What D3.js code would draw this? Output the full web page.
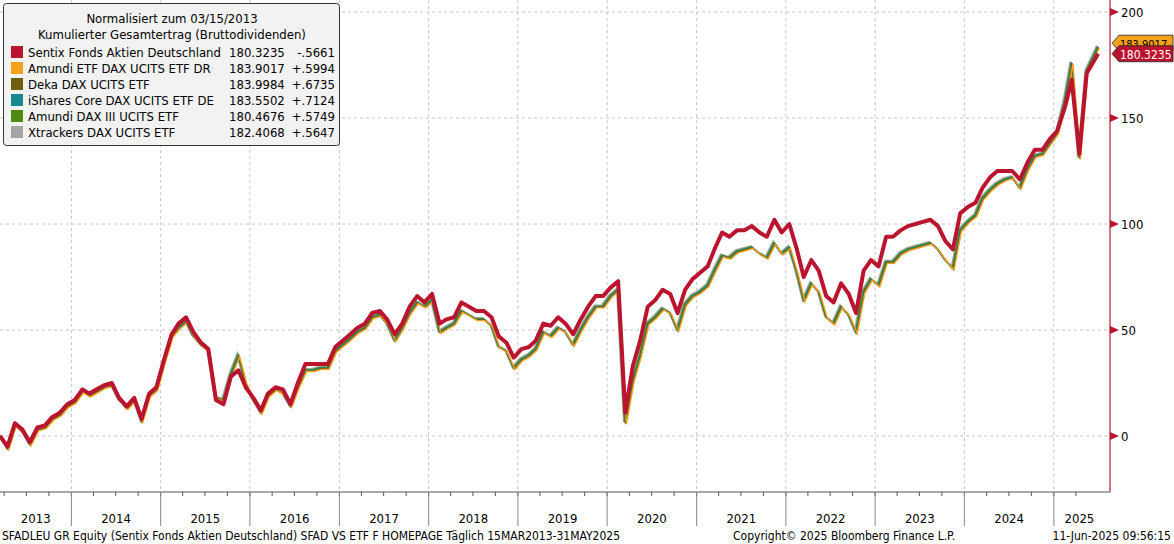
<!DOCTYPE html>
<html>
<head>
<meta charset="utf-8">
<script src="https://cdn.jsdelivr.net/npm/d3@7"></script>
<style>
  body { margin: 0; background: #fff; }
  svg { font-family: "DejaVu Sans Condensed", "DejaVu Sans", sans-serif; }
</style>
</head>
<body>
<div id="chart"></div>
<script>
// monthly closes, Mar 2013 .. May 2025 (normalised, 0 = 15 Mar 2013)
const startMonth = new Date(2013, 2, 15);
const sentixValues = [
  0, -5, 6, 3, -3, 4, 5, 9, 11, 15,
  17, 22, 20, 22, 24, 25, 18, 14, 18, 8, 20, 23,
  36, 48, 53, 56, 49, 44, 41, 17, 15, 28, 31, 23,
  18, 12, 20, 23, 22, 15, 25, 34, 34, 34, 34, 42,
  45, 48, 51, 53, 58, 59, 55, 48, 53, 61, 66, 63,
  67, 53, 55, 56, 63, 61, 59, 59, 56, 47, 44, 37,
  41, 42, 45, 53, 52, 56, 53, 48, 55, 61, 66, 66,
  70, 73, 11, 33, 45, 61, 64, 69, 67, 58, 69, 74,
  77, 80, 88, 96, 94, 97, 97, 99, 96, 94, 102, 96,
  100, 88, 75, 83, 78, 66, 63, 72, 67, 58, 78, 83,
  80, 94, 94, 97, 99, 100, 101, 102, 99, 92, 88, 105,
  108, 110, 117, 122, 125, 125, 125, 121, 129, 135, 135, 140,
  144, 155, 168, 133, 171, 180.3235
];
const etfValues = [
  0, -6, 5, 2, -4, 3, 4, 8, 10, 14,
  16, 21, 19, 21, 23, 24, 17, 13, 17, 7, 19, 22,
  35, 47, 51, 54, 47, 43, 40, 18, 17, 29, 38, 25,
  17, 11, 19, 22, 20, 14, 23, 31, 31, 32, 32, 40,
  43, 46, 49, 51, 56, 57, 53, 45, 51, 58, 63, 61,
  64, 49, 51, 53, 59, 57, 55, 55, 52, 42, 40, 32,
  36, 38, 41, 49, 47, 51, 49, 43, 50, 56, 61, 61,
  66, 69, 6, 26, 38, 53, 56, 60, 58, 50, 62, 66,
  68, 71, 78, 85, 84, 87, 88, 89, 86, 84, 91, 86,
  89, 77, 64, 72, 68, 56, 53, 61, 57, 49, 68, 74,
  71, 82, 82, 86, 88, 89, 90, 91, 88, 83, 79, 97,
  101, 104, 112, 116, 119, 121, 122, 117, 126, 132, 133, 138,
  143, 158, 176, 131, 172, 183.55
];
const seriesNames = [
  "Sentix Fonds Aktien Deutschland", "Amundi ETF DAX UCITS ETF DR", "Deka DAX UCITS ETF",
  "iShares Core DAX UCITS ETF DE", "Amundi DAX III UCITS ETF", "Xtrackers DAX UCITS ETF"
];
const seriesColors = ["#bb142f", "#f5a01a", "#6e5f10", "#168a8e", "#4f8a10", "#a5a5a5"];
const lastValues = ["180.3235", "183.9017", "183.9984", "183.5502", "180.4676", "182.4068"];
const changeValues = ["-.5661", "+.5994", "+.6735", "+.7124", "+.5749", "+.5647"];
const yTicks = [0, 50, 100, 150, 200];
const yearLabels = [2013, 2014, 2015, 2016, 2017, 2018, 2019, 2020, 2021, 2022, 2023, 2024, 2025];
const footerLeft = "SFADLEU GR Equity (Sentix Fonds Aktien Deutschland) SFAD VS ETF F HOMEPAGE  Täglich 15MAR2013-31MAY2025";
const footerMid = "Copyright© 2025 Bloomberg Finance L.P.";
const footerRight = "11-Jun-2025 09:56:15";

const W = 1174, H = 544;
const plotRight = 1110, axisY = 492;

const dates = sentixValues.map((_, i) => {
  const d = new Date(startMonth);
  d.setMonth(startMonth.getMonth() + i);
  if (i === sentixValues.length - 1) d.setDate(31);
  return d;
});

const endDate = new Date(2025, 5, 10);
const x = d3.scaleTime().domain([startMonth, endDate]).range([0, 1093]);
const y = d3.scaleLinear().domain([0, 200]).range([436, 12]);

const svg = d3.select("#chart").append("svg")
  .attr("width", W).attr("height", H);

// grid
const years = d3.range(2014, 2026).map(yr => new Date(yr, 0, 1));
svg.append("g").selectAll("line").data(years).join("line")
  .attr("x1", d => x(d)).attr("x2", d => x(d))
  .attr("y1", 0).attr("y2", axisY)
  .attr("stroke", "#c4c4c4").attr("stroke-dasharray", "3,3");
svg.append("g").selectAll("line").data(yTicks).join("line")
  .attr("x1", 0).attr("x2", plotRight)
  .attr("y1", d => y(d)).attr("y2", d => y(d))
  .attr("stroke", "#c4c4c4").attr("stroke-dasharray", "3,3");

// lines
const line = d3.line().x((d, i) => x(dates[i])).y(d => y(d));
const lines = svg.append("g");
// ETFs drawn from the same ETF track, nudged by a pixel so the bundle shows
[5, 4, 3, 2, 1].forEach((k, j) => {
  lines.append("path").datum(etfValues)
    .attr("d", line)
    .attr("transform", `translate(${(j - 2) * 0.6},${(j - 2) * 0.6})`)
    .attr("fill", "none")
    .attr("stroke", seriesColors[k])
    .attr("stroke-width", k === 5 ? 2.2 : 1.4);
});
lines.append("path").datum(sentixValues)
  .attr("d", line)
  .attr("fill", "none")
  .attr("stroke", seriesColors[0])
  .attr("stroke-width", 4)
  .attr("stroke-linejoin", "round");

// right axis
svg.append("line")
  .attr("x1", plotRight).attr("x2", plotRight)
  .attr("y1", 0).attr("y2", axisY)
  .attr("stroke", "#bb142f").attr("stroke-width", 1.2);
const yAx = svg.append("g");
yAx.selectAll("path").data(yTicks).join("path")
  .attr("d", d => `M${plotRight},${y(d) - 4}L${plotRight + 9},${y(d)}L${plotRight},${y(d) + 4}Z`)
  .attr("fill", "#bb142f");
yAx.selectAll("text").data(yTicks).join("text")
  .attr("x", plotRight + 11).attr("y", d => y(d) + 5)
  .attr("font-size", 13).attr("fill", "#000")
  .text(d => d);

// last value badges
function badge(val, txt, color, fg, size) {
  const yy = y(val);
  const g = svg.append("g");
  g.append("path")
    .attr("d", `M${plotRight + 2},${yy}L${plotRight + 9},${yy - 8}L${W - 1},${yy - 8}L${W - 1},${yy + 8}L${plotRight + 9},${yy + 8}Z`)
    .attr("fill", color).attr("stroke", "#222").attr("stroke-width", 0.8);
  g.append("text").attr("x", plotRight + 10).attr("y", yy + 5)
    .attr("font-size", size).attr("fill", fg).text(txt);
}
badge(185.3, lastValues[1], seriesColors[1], "#000", 11);
badge(180.3235, lastValues[0], seriesColors[0], "#fff", 12);

// bottom axis
svg.append("line").attr("x1", 0).attr("x2", plotRight)
  .attr("y1", axisY).attr("y2", axisY).attr("stroke", "#555");
const quarters = d3.timeMonth.every(3).range(new Date(2013, 3, 1), new Date(2025, 6, 1));
svg.append("g").selectAll("line").data(quarters).join("line")
  .attr("x1", d => x(d)).attr("x2", d => x(d))
  .attr("y1", axisY).attr("y2", axisY + 4).attr("stroke", "#555");
svg.append("g").selectAll("line").data(years).join("line")
  .attr("x1", d => x(d)).attr("x2", d => x(d))
  .attr("y1", axisY).attr("y2", 526).attr("stroke", "#888");
const yearStarts = [startMonth].concat(years);
svg.append("g").selectAll("text").data(yearLabels).join("text")
  .attr("x", (d, i) => {
    const a = x(yearStarts[i]);
    const b = i + 1 < yearStarts.length ? x(yearStarts[i + 1]) : x(endDate) + 12;
    return (a + b) / 2;
  })
  .attr("y", 523).attr("text-anchor", "middle")
  .attr("font-size", 13).text(d => d);

// footer
svg.append("text").attr("x", 2).attr("y", 540).attr("font-size", 12).text(footerLeft);
svg.append("text").attr("x", 733).attr("y", 540).attr("font-size", 12).text(footerMid);
svg.append("text").attr("x", W - 3).attr("y", 540).attr("font-size", 12)
  .attr("text-anchor", "end").text(footerRight);

// legend
const leg = svg.append("g");
leg.append("rect").attr("x", 3.5).attr("y", 3.5).attr("width", 336).attr("height", 142)
  .attr("rx", 3).attr("fill", "#f2f2f2").attr("stroke", "#333");
leg.append("text").attr("x", 172).attr("y", 23).attr("text-anchor", "middle")
  .attr("font-size", 13).text("Normalisiert zum 03/15/2013");
leg.append("text").attr("x", 172).attr("y", 39).attr("text-anchor", "middle")
  .attr("font-size", 13).text("Kumulierter Gesamtertrag (Bruttodividenden)");
const rows = leg.selectAll("g.row").data(seriesNames).join("g")
  .attr("class", "row")
  .attr("transform", (d, i) => `translate(0,${52 + i * 16})`);
rows.append("rect").attr("x", 11).attr("y", -6).attr("width", 12).attr("height", 12)
  .attr("fill", (d, i) => seriesColors[i]);
rows.append("text").attr("x", 28).attr("y", 5).attr("font-size", 13).text(d => d);
rows.append("text").attr("x", 229).attr("y", 5).attr("font-size", 13).text((d, i) => lastValues[i]);
rows.append("text").attr("x", 335).attr("y", 5).attr("font-size", 13)
  .attr("text-anchor", "end").text((d, i) => changeValues[i]);
</script>
</body>
</html>
